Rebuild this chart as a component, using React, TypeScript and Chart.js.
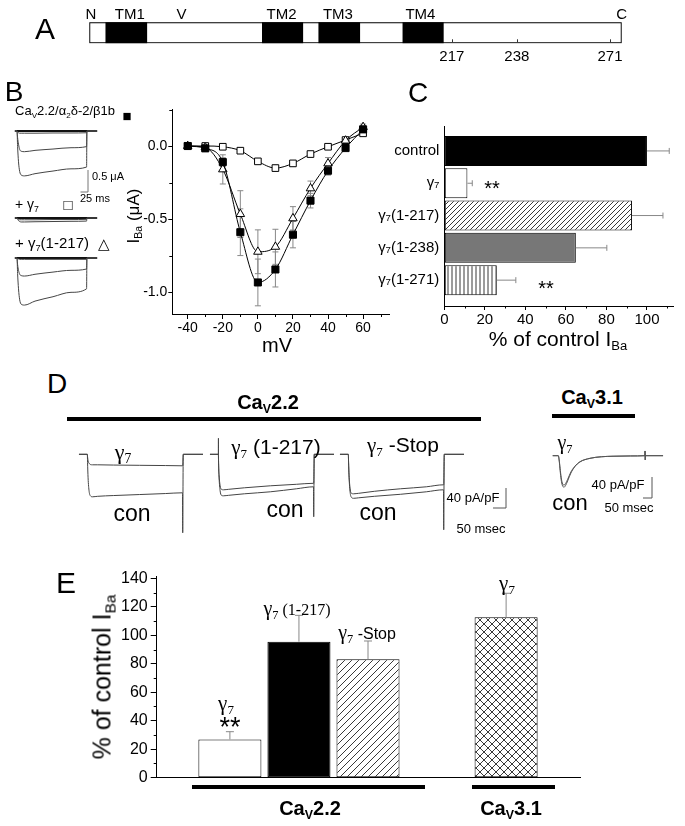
import React, { useEffect, useRef } from 'react';
import { Chart, registerables } from 'chart.js';

Chart.register(...registerables);

const SANS = "'Liberation Sans', Arial, Helvetica, sans-serif";
const SERIF = "'Liberation Serif', 'Times New Roman', serif";
Chart.defaults.font.family = SANS;
Chart.defaults.color = '#000';

// ---------------- Panel A: γ7 topology (schematic units along the bar, 0–100) ----------------
const domainLabelsA = ['N', 'TM1', 'V', 'TM2', 'TM3', 'TM4', 'C'];
const domainLabelPosA = [0.3, 7.6, 17.3, 36.1, 46.7, 62.2, 100];
const tmStartA = [3.1, 32.5, 43.1, 58.9];
const tmEndA = [10.8, 40.1, 50.8, 66.5];
const residueTickPosA = [68.1, 80.3, 97.8];
const residueTickLabelsA = ['217', '238', '271'];

// ---------------- Panel B (left): example traces, time (ms) / current (µA) ----------------
const bTime = [-7, 0, 2, 5, 9, 14, 25, 60, 120, 180, 232, 233, 267];
const bHolding = [0, 0, 0, 0, 0, 0, 0, 0, 0, 0, 0, 0, 0];
const bCtrlLarge = [0, 0, -0.35, -0.7, -0.92, -1.0, -1.02, -0.97, -0.91, -0.86, -0.82, 0, 0];
const bCtrlMedium = [0, 0, -0.15, -0.3, -0.42, -0.46, -0.47, -0.44, -0.41, -0.38, -0.355, 0, 0];
const bCtrlSmall = [0, 0, -0.02, -0.04, -0.05, -0.05, -0.05, -0.05, -0.045, -0.045, -0.04, 0, 0];
const bG7A = [0, 0, -0.03, -0.06, -0.08, -0.09, -0.09, -0.085, -0.08, -0.075, -0.07, 0, 0];
const bG7B = [0, 0, -0.01, -0.03, -0.04, -0.04, -0.04, -0.04, -0.035, -0.035, -0.03, 0, 0];
const bTrLarge = [0, 0, -0.35, -0.7, -0.95, -1.05, -1.07, -0.98, -0.88, -0.78, -0.7, 0, 0];
const bTrMedium = [0, 0, -0.15, -0.28, -0.37, -0.4, -0.41, -0.37, -0.32, -0.28, -0.25, 0, 0];
const bTrSmall = [0, 0, -0.01, -0.02, -0.03, -0.03, -0.03, -0.03, -0.03, -0.03, -0.03, 0, 0];

// ---------------- Panel B (right): I–V relation ----------------
const ivVoltages = [-40, -30, -20, -10, 0, 10, 20, 30, 40, 50, 60];
const ivControl = [0, -0.016, -0.11, -0.59, -0.934, -0.845, -0.607, -0.374, -0.169, -0.014, 0.114];
const ivControlErr = [0.01, 0.01, 0.03, 0.16, 0.16, 0.12, 0.09, 0.05, 0.03, 0.02, 0.02];
const ivTrunc217 = [0, -0.01, -0.16, -0.466, -0.724, -0.69, -0.495, -0.29, -0.119, 0.037, 0.13];
const ivTrunc217Err = [0.01, 0.02, 0.1, 0.16, 0.15, 0.12, 0.08, 0.05, 0.04, 0.02, 0.02];
const ivGamma7 = [0, 0, -0.005, -0.032, -0.105, -0.151, -0.119, -0.055, -0.005, 0.041, 0.087];
const ivGamma7Err = [0.01, 0.012, 0.012, 0.012, 0.015, 0.02, 0.02, 0.012, 0.01, 0.01, 0.01];
const ivXTicks = [-40, -20, 0, 20, 40, 60];
const ivXMinor = [-30, -10, 10, 30, 50, 70];
const ivYTicks = [-1, -0.5, 0];
const ivYMinor = [-0.75, -0.25, 0.25];

// ---------------- Panel C: % of control I_Ba ----------------
const categoriesC = ['control', 'γ₇', 'γ₇(1-217)', 'γ₇(1-238)', 'γ₇(1-271)'];
const valuesC = [100, 11.4, 92.6, 64.9, 25.9];
const errorsC = [11, 2.4, 15.3, 15.3, 9.4];
const xTicksC = [0, 20, 40, 60, 80, 100];
const xMinorC = [10, 30, 50, 70, 90, 110];

// ---------------- Panel D: current density traces, time (ms) / pA/pF ----------------
const dTime = [-32, 0, 0.5, 1, 3, 7, 12, 20, 40, 100, 200, 300, 366, 367, 369, 445];
const dConA = [0, 0, -5, -16, -47, -74, -83, -85, -84, -82.5, -80.5, -78.5, -77, -157, 0, 0];
const dG7 = [0, 0, -2, -5, -13, -18, -20.5, -21, -21, -21.5, -22, -22.5, -23, -23, 0, 0];
const dConB = [0, 0, -5, -16, -47, -73, -82, -83, -82, -79, -75, -69, -65, -125, 0, 0];
const dG7Trunc = [0, 0, 32, -13, -42, -63, -70, -71, -70, -67, -63, -60, -58, -58, 0, 0];
const dConC = [0, 0, -5, -16, -47, -76, -86, -88, -87, -84, -80, -75, -71, -151, 0, 0];
const dG7Stop = [0, 0, -4, -14, -42, -69, -78, -79, -78, -74, -69, -65, -61, -61, 0, 0];
const d31Time = [-31, 0, 5, 10, 16, 22, 32, 40, 52, 70, 92, 120, 176, 240, 304, 400, 481, 482, 483, 484, 582];
const d31Con = [0, 0, -10, -28, -46, -56, -60, -57, -48, -33, -21, -12, -5, -2, -1, -0.5, 0, 9, -8, 0, 0];
const d31G7 = [0, 0, -8, -24, -41, -52, -56, -53.5, -45, -31, -20, -11.5, -5, -2, -1, -0.5, 0, 9, -8, 0, 0];

// ---------------- Panel E: % of control I_Ba ----------------
const categoriesE = ['γ7 (CaV2.2)', 'γ7(1-217) (CaV2.2)', 'γ7-Stop (CaV2.2)', 'γ7 (CaV3.1)'];
const slotsE = [0, 1, 2, 4];
const valuesE = [26.9, 95.5, 83.1, 112.6];
const errorsE = [5.4, 18.5, 12.9, 16.9];
const yTicksE = [0, 20, 40, 60, 80, 100, 120, 140];
const yMinorE = [10, 30, 50, 70, 90, 110, 130];

// ---------------- layout (pixels) ----------------
type Box = { left: number; top: number; width: number; height: number };
const BOX_A: Box = { left: 0, top: 0, width: 685, height: 80 };
const BOX_BT: Box = { left: 8, top: 100, width: 110, height: 220 };
const BOX_IV: Box = { left: 100, top: 95, width: 300, height: 255 };
const BOX_C: Box = { left: 370, top: 110, width: 315, height: 230 };
const BOX_D1: Box = { left: 70, top: 425, width: 140, height: 120 };
const BOX_D2: Box = { left: 205, top: 425, width: 135, height: 120 };
const BOX_D3: Box = { left: 335, top: 425, width: 180, height: 120 };
const BOX_D4: Box = { left: 545, top: 425, width: 130, height: 100 };
const BOX_E: Box = { left: 60, top: 560, width: 540, height: 250 };

function spanX(originPx: number, box: Box, pxPerUnit: number) {
  return { min: (box.left - originPx) / pxPerUnit, max: (box.left + box.width - originPx) / pxPerUnit };
}
function spanY(originPx: number, box: Box, pxPerUnit: number) {
  return { min: -(box.top + box.height - originPx) / pxPerUnit, max: (originPx - box.top) / pxPerUnit };
}

// ---------------- helpers ----------------
function makePattern(kind: 'diag' | 'cross' | 'vert', size: number) {
  const c = document.createElement('canvas');
  c.width = size;
  c.height = size;
  const g = c.getContext('2d')!;
  g.fillStyle = '#fff';
  g.fillRect(0, 0, size, size);
  g.strokeStyle = '#222';
  g.lineWidth = 0.9;
  g.beginPath();
  if (kind === 'diag' || kind === 'cross') {
    g.moveTo(0, size); g.lineTo(size, 0);
    g.moveTo(-1, 1); g.lineTo(1, -1);
    g.moveTo(size - 1, size + 1); g.lineTo(size + 1, size - 1);
  }
  if (kind === 'cross') {
    g.moveTo(0, 0); g.lineTo(size, size);
    g.moveTo(-1, size - 1); g.lineTo(1, size + 1);
    g.moveTo(size - 1, -1); g.lineTo(size + 1, 1);
  }
  if (kind === 'vert') {
    g.moveTo(size / 2, 0); g.lineTo(size / 2, size);
  }
  g.stroke();
  return g.createPattern(c, 'repeat');
}

const noPlugins = { legend: { display: false }, tooltip: { enabled: false } };

function minorTicks(cfg: { x?: number[]; y?: number[]; len: number }) {
  return {
    id: 'minorTicks',
    afterDraw(chart: any) {
      const { ctx, chartArea } = chart;
      ctx.save();
      ctx.strokeStyle = '#000';
      ctx.lineWidth = 1;
      ctx.beginPath();
      (cfg.x || []).forEach((v) => {
        const p = Math.round(chart.scales.x.getPixelForValue(v)) + 0.5;
        ctx.moveTo(p, chartArea.bottom);
        ctx.lineTo(p, chartArea.bottom + cfg.len);
      });
      (cfg.y || []).forEach((v) => {
        const p = Math.round(chart.scales.y.getPixelForValue(v)) + 0.5;
        ctx.moveTo(chartArea.left, p);
        ctx.lineTo(chartArea.left - cfg.len, p);
      });
      ctx.stroke();
      ctx.restore();
    },
  };
}

function errorBars(cfg: { both: boolean; cap: number; color: string; below: boolean }) {
  const draw = (chart: any) => {
    const ctx = chart.ctx;
    const horizontal = chart.options.indexAxis === 'y';
    ctx.save();
    ctx.strokeStyle = cfg.color;
    ctx.lineWidth = 1;
    ctx.beginPath();
    chart.data.datasets.forEach((ds: any, i: number) => {
      if (!ds.errors) return;
      const meta = chart.getDatasetMeta(i);
      const vs = chart.scales[horizontal ? meta.xAxisID : meta.yAxisID];
      meta.data.forEach((el: any, j: number) => {
        const raw = ds.data[j];
        const v = horizontal ? raw.x : raw.y;
        const e = ds.errors[j];
        const a = vs.getPixelForValue(cfg.both ? v - e : v);
        const b = vs.getPixelForValue(v + e);
        if (horizontal) {
          const y = el.y;
          ctx.moveTo(a, y); ctx.lineTo(b, y);
          ctx.moveTo(b, y - cfg.cap); ctx.lineTo(b, y + cfg.cap);
          if (cfg.both) { ctx.moveTo(a, y - cfg.cap); ctx.lineTo(a, y + cfg.cap); }
        } else {
          const x = el.x;
          ctx.moveTo(x, a); ctx.lineTo(x, b);
          ctx.moveTo(x - cfg.cap, b); ctx.lineTo(x + cfg.cap, b);
          if (cfg.both) { ctx.moveTo(x - cfg.cap, a); ctx.lineTo(x + cfg.cap, a); }
        }
      });
    });
    ctx.stroke();
    ctx.restore();
  };
  return cfg.below ? { id: 'errorBars', beforeDatasetsDraw: draw } : { id: 'errorBars', afterDatasetsDraw: draw };
}

function scaleBar(cfg: { x: number; y: number; dx: number; dy: number; yAxis: string; color: string }) {
  return {
    id: 'scaleBar',
    afterDatasetsDraw(chart: any) {
      const xs = chart.scales.x;
      const ys = chart.scales[cfg.yAxis];
      const x0 = xs.getPixelForValue(cfg.x);
      const y0 = ys.getPixelForValue(cfg.y);
      const x1 = xs.getPixelForValue(cfg.x - cfg.dx);
      const y1 = ys.getPixelForValue(cfg.y + cfg.dy);
      const ctx = chart.ctx;
      ctx.save();
      ctx.strokeStyle = cfg.color;
      ctx.lineWidth = 1;
      ctx.beginPath();
      ctx.moveTo(x1, y0); ctx.lineTo(x0, y0); ctx.lineTo(x0, y1);
      ctx.stroke();
      ctx.restore();
    },
  };
}

type TraceSpec = { values: number[]; axis: string; width?: number; color?: string };
function traceChart(time: number[], traces: TraceSpec[], axes: Record<string, { min: number; max: number }>, plugins: any[]) {
  const scales: any = {};
  Object.keys(axes).forEach((id) => {
    scales[id] = { type: 'linear', display: false, axis: id === 'x' ? 'x' : 'y', min: axes[id].min, max: axes[id].max };
  });
  return {
    type: 'line',
    data: {
      datasets: traces.map((t) => ({
        data: time.map((x, i) => ({ x, y: t.values[i] })),
        yAxisID: t.axis,
        borderColor: t.color || '#333',
        borderWidth: t.width || 1,
        pointRadius: 0,
        cubicInterpolationMode: 'monotone',
        fill: false,
      })),
    },
    options: { responsive: false, animation: false, events: [], layout: { padding: 0 }, scales, plugins: noPlugins },
    plugins,
  };
}

// ---------------- chart builders ----------------
function buildA() {
  const labelsPlugin = {
    id: 'domainLabels',
    afterDraw(chart: any) {
      const { ctx, chartArea } = chart;
      const xs = chart.scales.x;
      ctx.save();
      ctx.fillStyle = '#000';
      ctx.font = `15px ${SANS}`;
      ctx.textAlign = 'center';
      ctx.textBaseline = 'alphabetic';
      domainLabelsA.forEach((t, i) => ctx.fillText(t, xs.getPixelForValue(domainLabelPosA[i]), chartArea.top - 3.5));
      ctx.strokeStyle = '#333';
      ctx.beginPath();
      residueTickPosA.forEach((v) => {
        const p = Math.round(xs.getPixelForValue(v)) + 0.5;
        ctx.moveTo(p, chartArea.bottom - 1);
        ctx.lineTo(p, chartArea.bottom - 4);
      });
      ctx.stroke();
      ctx.restore();
    },
  };
  return {
    type: 'bar',
    data: {
      labels: [''],
      datasets: [
        { data: [[0, 100]], backgroundColor: '#fff', borderColor: '#000', borderWidth: 1.3, borderSkipped: false, grouped: false, order: 2, barPercentage: 1, categoryPercentage: 1 },
        ...tmStartA.map((s, i) => ({
          data: [[s, tmEndA[i]]], backgroundColor: '#000', borderWidth: 0, borderSkipped: false, grouped: false, order: 1, barPercentage: 1, categoryPercentage: 1,
        })),
      ],
    },
    options: {
      indexAxis: 'y', responsive: false, animation: false, events: [],
      layout: { padding: { left: 89.3, right: 63.3, top: 22.3, bottom: 16.7 } },
      scales: {
        y: { display: false },
        x: {
          type: 'linear', min: 0, max: 100,
          grid: { display: false, drawTicks: false, tickLength: 0 }, border: { display: false },
          afterBuildTicks: (s: any) => { s.ticks = residueTickPosA.map((v) => ({ value: v })); },
          afterFit: (s: any) => { s.height = 20; },
          ticks: { autoSkip: false, maxRotation: 0, padding: 5, font: { size: 15 }, color: '#000', callback: (_v: any, i: number) => residueTickLabelsA[i] },
        },
      },
      plugins: noPlugins,
    },
    plugins: [labelsPlugin],
  };
}

function buildBTraces() {
  const pxPerMs = 0.3, pxPerUA = 44, onset = 17;
  const bases = [131, 218, 258];
  return traceChart(
    bTime,
    [
      { values: bCtrlLarge, axis: 'g1', color: '#444' },
      { values: bCtrlMedium, axis: 'g1', color: '#444' },
      { values: bCtrlSmall, axis: 'g1', color: '#444' },
      { values: bHolding, axis: 'g1', color: '#111', width: 2 },
      { values: bG7A, axis: 'g2', color: '#444' },
      { values: bG7B, axis: 'g2', color: '#444' },
      { values: bHolding, axis: 'g2', color: '#111', width: 2 },
      { values: bTrLarge, axis: 'g3', color: '#444' },
      { values: bTrMedium, axis: 'g3', color: '#444' },
      { values: bTrSmall, axis: 'g3', color: '#444' },
      { values: bHolding, axis: 'g3', color: '#111', width: 2 },
    ],
    {
      x: spanX(onset, BOX_BT, pxPerMs),
      g1: spanY(bases[0], BOX_BT, pxPerUA),
      g2: spanY(bases[1], BOX_BT, pxPerUA),
      g3: spanY(bases[2], BOX_BT, pxPerUA),
    },
    [scaleBar({ x: (88 - onset) / pxPerMs, y: -(192 - bases[0]) / pxPerUA, dx: 25, dy: 0.5, yAxis: 'g1', color: '#777' })],
  );
}

function buildIV() {
  const mk = (vals: number[], errs: number[], style: string, radius: number, fillColor: string) => ({
    data: ivVoltages.map((x, i) => ({ x, y: vals[i] })),
    errors: errs,
    borderColor: '#000', borderWidth: 1, cubicInterpolationMode: 'monotone', fill: false,
    pointStyle: style, pointRadius: radius, pointBackgroundColor: fillColor, pointBorderColor: '#000', pointBorderWidth: 1,
  });
  return {
    type: 'line',
    data: {
      datasets: [
        mk(ivControl, ivControlErr, 'rect', 5, '#000'),
        mk(ivTrunc217, ivTrunc217Err, 'triangle', 4.9, '#fff'),
        mk(ivGamma7, ivGamma7Err, 'rect', 4.7, '#fff'),
      ],
    },
    options: {
      responsive: false, animation: false, events: [],
      layout: { padding: { left: 0, right: 10.6, top: 14.5, bottom: 6 } },
      scales: {
        x: {
          type: 'linear', min: -48.8, max: 75,
          afterBuildTicks: (s: any) => { s.ticks = ivXTicks.map((v) => ({ value: v })); },
          afterFit: (s: any) => { s.height = 30; },
          grid: { display: true, drawOnChartArea: false, drawTicks: true, tickLength: 5, color: '#000' },
          border: { display: true, color: '#000', width: 1 },
          ticks: { autoSkip: false, maxRotation: 0, padding: 1, font: { size: 14 }, color: '#000' },
        },
        y: {
          type: 'linear', min: -1.15, max: 0.25,
          afterBuildTicks: (s: any) => { s.ticks = ivYTicks.map((v) => ({ value: v })); },
          afterFit: (s: any) => { s.width = 72.3; },
          grid: { display: true, drawOnChartArea: false, drawTicks: true, tickLength: 4, color: '#000' },
          border: { display: true, color: '#000', width: 1 },
          ticks: { padding: 1, font: { size: 14 }, color: '#000', callback: (v: any) => Number(v).toFixed(1) },
        },
      },
      plugins: noPlugins,
    },
    plugins: [errorBars({ both: true, cap: 3, color: '#888', below: true }), minorTicks({ x: ivXMinor, y: ivYMinor, len: 3 })],
  };
}

function buildC() {
  const fills = ['#000', '#fff', makePattern('diag', 5), '#777', makePattern('vert', 4)];
  return {
    type: 'bar',
    data: {
      datasets: [{
        data: valuesC.map((v, i) => ({ x: v, y: i })),
        errors: errorsC,
        backgroundColor: fills, borderColor: '#000', borderWidth: 1, borderSkipped: false,
        barPercentage: 0.93, categoryPercentage: 1,
      }],
    },
    options: {
      indexAxis: 'y', responsive: false, animation: false, events: [],
      layout: { padding: { left: 0, right: 11.7, top: 16.7, bottom: 10 } },
      scales: {
        y: {
          type: 'linear', min: -0.75, max: 4.8, reverse: true, offset: false,
          afterBuildTicks: (s: any) => { s.ticks = categoriesC.map((_c, i) => ({ value: i })); },
          afterFit: (s: any) => { s.width = 74.3; },
          grid: { display: false, offset: false, drawTicks: false, tickLength: 0 }, border: { display: true, color: '#000', width: 1 },
          ticks: { autoSkip: false, padding: 5, font: { size: 15 }, color: '#000', callback: (v: any) => categoriesC[v] },
        },
        x: {
          type: 'linear', min: 0, max: 113,
          afterBuildTicks: (s: any) => { s.ticks = xTicksC.map((v) => ({ value: v })); },
          afterFit: (s: any) => { s.height = 24; },
          grid: { display: true, drawOnChartArea: false, drawTicks: true, tickLength: 4, color: '#000' },
          border: { display: true, color: '#000', width: 1 },
          ticks: { autoSkip: false, maxRotation: 0, padding: 1, font: { size: 15 }, color: '#000' },
        },
      },
      plugins: noPlugins,
    },
    plugins: [errorBars({ both: false, cap: 3, color: '#888', below: false }), minorTicks({ x: xMinorC, len: 2.5 })],
  };
}

function buildDGroup(box: Box, onset: number, con: number[], gamma: number[], withBar: boolean) {
  const pxPerMs = 0.26, pxPerUnit = 0.5, base = 454.3;
  const plugins = withBar ? [scaleBar({ x: (506 - onset) / pxPerMs, y: -(508 - base) / pxPerUnit, dx: 50, dy: 40, yAxis: 'y', color: '#555' })] : [];
  return traceChart(
    dTime,
    [{ values: con, axis: 'y', color: '#444' }, { values: gamma, axis: 'y', color: '#444' }],
    { x: spanX(onset, box, pxPerMs), y: spanY(base, box, pxPerUnit) },
    plugins,
  );
}

function buildD31() {
  const pxPerMs = 0.18, pxPerUnit = 0.525, base = 455.7, onset = 558.3;
  return traceChart(
    d31Time,
    [{ values: d31Con, axis: 'y', color: '#555' }, { values: d31G7, axis: 'y', color: '#555' }],
    { x: spanX(onset, BOX_D4, pxPerMs), y: spanY(base, BOX_D4, pxPerUnit) },
    [scaleBar({ x: (652 - onset) / pxPerMs, y: -(498 - base) / pxPerUnit, dx: 50, dy: 40, yAxis: 'y', color: '#555' })],
  );
}

function buildE() {
  const fills = ['#fff', '#000', makePattern('diag', 7), makePattern('cross', 8)];
  return {
    type: 'bar',
    data: {
      labels: categoriesE,
      datasets: [{
        data: valuesE.map((v, i) => ({ x: slotsE[i], y: v })),
        errors: errorsE,
        backgroundColor: fills, borderColor: '#000', borderWidth: 1, borderSkipped: false,
        barPercentage: 0.913, categoryPercentage: 1,
      }],
    },
    options: {
      responsive: false, animation: false, events: [],
      layout: { padding: { left: 0, right: 20, top: 16.9, bottom: 32.3 } },
      scales: {
        x: {
          type: 'linear', min: -1.06, max: 5.07, offset: false,
          afterFit: (s: any) => { s.height = 0; },
          grid: { display: false, offset: false, drawTicks: false, tickLength: 0 }, border: { display: true, color: '#000', width: 1 },
          ticks: { display: false },
        },
        y: {
          type: 'linear', min: 0, max: 141,
          afterBuildTicks: (s: any) => { s.ticks = yTicksE.map((v) => ({ value: v })); },
          afterFit: (s: any) => { s.width = 96.7; },
          grid: { display: true, drawOnChartArea: false, drawTicks: true, tickLength: 6, color: '#000' },
          border: { display: true, color: '#000', width: 1 },
          ticks: { padding: 3, font: { size: 16 }, color: '#000' },
        },
      },
      plugins: noPlugins,
    },
    plugins: [errorBars({ both: false, cap: 4, color: '#888', below: false }), minorTicks({ y: yMinorE, len: 3 })],
  };
}

// ---------------- React components ----------------
function ChartBox({ box, build }: { box: Box; build: () => any }) {
  const ref = useRef<HTMLCanvasElement | null>(null);
  useEffect(() => {
    if (!ref.current) return;
    const chart = new Chart(ref.current, build());
    return () => chart.destroy();
  }, []);
  return (
    <canvas
      ref={ref}
      width={box.width}
      height={box.height}
      style={{ position: 'absolute', left: box.left, top: box.top, width: box.width, height: box.height }}
    />
  );
}

const Sub = ({ children }: { children: any }) => (
  <span style={{ fontSize: '0.62em', position: 'relative', top: '0.32em' }}>{children}</span>
);

function Txt(props: { x: number; y: number; size: number; children: any; bold?: boolean; family?: string; align?: 'left' | 'center' | 'right'; rotate?: number }) {
  const { x, y, size, children, bold, family, align = 'center', rotate } = props;
  const tx = align === 'center' ? '-50%' : align === 'right' ? '-100%' : '0';
  return (
    <div
      style={{
        position: 'absolute', left: x, top: y,
        transform: `translate(${tx}, -50%)${rotate ? ` rotate(${rotate}deg)` : ''}`,
        fontSize: size, fontWeight: bold ? 700 : 400, fontFamily: family || SANS,
        whiteSpace: 'nowrap', lineHeight: 1, color: '#000',
      }}
    >
      {children}
    </div>
  );
}

const G7 = ({ serif }: { serif?: boolean }) => (
  <span style={{ fontFamily: serif ? SERIF : undefined }}>γ<Sub>7</Sub></span>
);

const Bar = ({ left, top, width, height }: Box) => (
  <div style={{ position: 'absolute', left, top, width, height, background: '#000' }} />
);

export default function App() {
  return (
    <div style={{ position: 'absolute', left: 0, top: 0, width: 685, height: 826, background: '#fff', overflow: 'hidden', fontFamily: SANS }}>
      <ChartBox box={BOX_A} build={buildA} />
      <ChartBox box={BOX_BT} build={buildBTraces} />
      <ChartBox box={BOX_IV} build={buildIV} />
      <ChartBox box={BOX_C} build={buildC} />
      <ChartBox box={BOX_D1} build={() => buildDGroup(BOX_D1, 87.3, dConA, dG7, false)} />
      <ChartBox box={BOX_D2} build={() => buildDGroup(BOX_D2, 218.3, dConB, dG7Trunc, false)} />
      <ChartBox box={BOX_D3} build={() => buildDGroup(BOX_D3, 348.3, dConC, dG7Stop, true)} />
      <ChartBox box={BOX_D4} build={buildD31} />
      <ChartBox box={BOX_E} build={buildE} />

      {/* panel letters */}
      <Txt x={45} y={29} size={30}>A</Txt>
      <Txt x={14} y={92} size={28}>B</Txt>
      <Txt x={418} y={93} size={28}>C</Txt>
      <Txt x={57} y={384} size={28}>D</Txt>
      <Txt x={66} y={583} size={30}>E</Txt>

      {/* panel B labels */}
      <Txt x={15} y={111} size={13} align="left">Ca<Sub>V</Sub>2.2/α<Sub>2</Sub>δ-2/β1b</Txt>
      <Txt x={127} y={115} size={15}>■</Txt>
      <Txt x={92} y={176} size={11} align="left">0.5 μA</Txt>
      <Txt x={80} y={198} size={11} align="left">25 ms</Txt>
      <Txt x={15} y={204} size={14} align="left">+ <G7 /></Txt>
      <Txt x={68} y={204} size={15}>□</Txt>
      <Txt x={15} y={243} size={15} align="left">+ <G7 />(1-217)</Txt>
      <Txt x={104} y={243} size={15}>△</Txt>
      <Txt x={133} y={216} size={17} rotate={-90}>I<Sub>Ba</Sub> (μA)</Txt>
      <Txt x={277} y={345} size={20}>mV</Txt>

      {/* panel C labels */}
      <Txt x={558} y={338} size={21}>% of control I<Sub>Ba</Sub></Txt>
      <Txt x={492} y={188} size={20}>**</Txt>
      <Txt x={546} y={288} size={20}>**</Txt>

      {/* panel D labels */}
      <Txt x={268} y={402} size={20} bold>Ca<Sub>V</Sub>2.2</Txt>
      <Bar left={67} top={416.5} width={414} height={4} />
      <Txt x={592} y={397} size={20} bold>Ca<Sub>V</Sub>3.1</Txt>
      <Bar left={552} top={414} width={83} height={4} />
      <Txt x={123} y={452} size={22} family={SERIF}>γ<Sub>7</Sub></Txt>
      <Txt x={132} y={513} size={23}>con</Txt>
      <Txt x={276} y={447} size={21}><G7 serif /> (1-217)</Txt>
      <Txt x={285} y={509} size={23}>con</Txt>
      <Txt x={403} y={445} size={21}><G7 serif /> -Stop</Txt>
      <Txt x={378} y={512} size={23}>con</Txt>
      <Txt x={473} y={497} size={13}>40 pA/pF</Txt>
      <Txt x={481} y={528} size={13}>50 msec</Txt>
      <Txt x={565} y={442} size={20} family={SERIF}>γ<Sub>7</Sub></Txt>
      <Txt x={570} y={503} size={22}>con</Txt>
      <Txt x={618} y={484} size={13}>40 pA/pF</Txt>
      <Txt x={629} y={507} size={13}>50 msec</Txt>

      {/* panel E labels */}
      <Txt x={102} y={677} size={25} rotate={-90}>% of control I<Sub>Ba</Sub></Txt>
      <Txt x={226} y={703} size={21} family={SERIF}>γ<Sub>7</Sub></Txt>
      <Txt x={230} y={727} size={27}>**</Txt>
      <Txt x={297} y={608} size={20}><G7 serif /><span style={{ fontFamily: SERIF, fontSize: 16 }}> (1-217)</span></Txt>
      <Txt x={367} y={632} size={20}><G7 serif /><span style={{ fontSize: 16 }}> -Stop</span></Txt>
      <Txt x={507} y={583} size={21} family={SERIF}>γ<Sub>7</Sub></Txt>
      <Bar left={192} top={784.7} width={233} height={4} />
      <Bar left={472} top={784.7} width={83} height={4} />
      <Txt x={310} y={808} size={20} bold>Ca<Sub>V</Sub>2.2</Txt>
      <Txt x={511} y={808} size={20} bold>Ca<Sub>V</Sub>3.1</Txt>
    </div>
  );
}
